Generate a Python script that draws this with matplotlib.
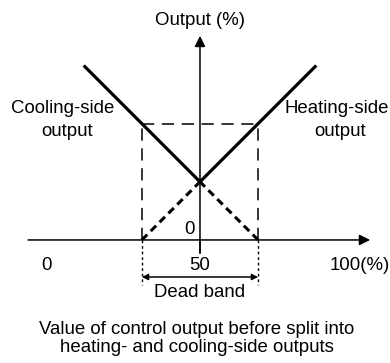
import matplotlib
matplotlib.use("Agg")
import matplotlib.pyplot as plt

plt.rcParams['font.family'] = ['Liberation Sans', 'DejaVu Sans']

# control output (%) before split, and dead band edges
x_ticks = [0, 50, 100]
x_tick_labels = ['0', '50', '100(%)']
dead_band = [31, 69]
cross_point = [50, 19]

# heating-side output: dashed inside dead band, solid beyond
heat_x_dash = [31, 50]
heat_y_dash = [0, 19]
heat_x_solid = [50, 88]
heat_y_solid = [19, 57]

# cooling-side output
cool_x_dash = [69, 50]
cool_y_dash = [0, 19]
cool_x_solid = [50, 12]
cool_y_solid = [19, 57]

# level where both outputs meet the dead band edges
band_top = 38

fig = plt.figure(figsize=(3.9, 3.63), dpi=100)
ax = fig.add_axes([0, 0, 1, 1])
ax.set_xlim(-15.36, 112.1)
ax.set_ylim(-40.2, 78.4)
ax.axis('off')

k = 'black'

# axes with arrows
ax.annotate('', xy=(105.6, 0), xytext=(-6.2, 0),
            arrowprops=dict(arrowstyle='-|>', color=k, lw=1.1,
                            mutation_scale=16, shrinkA=0, shrinkB=0))
ax.annotate('', xy=(50, 66.7), xytext=(50, -4.2),
            arrowprops=dict(arrowstyle='-|>', color=k, lw=1.1,
                            mutation_scale=16, shrinkA=0, shrinkB=0))

# dead band rectangle
ax.plot([dead_band[0], dead_band[1]], [band_top, band_top], color=k, lw=1.1,
        linestyle=(0, (8, 5)))
for xb in dead_band:
    ax.plot([xb, xb], [0, band_top], color=k, lw=1.1, linestyle=(0, (8, 5)))
    ax.plot([xb, xb], [0, -14.7], color=k, lw=1.0, linestyle=(0, (2, 2)))

# output lines
ax.plot(heat_x_solid, heat_y_solid, color=k, lw=2.3, solid_capstyle='butt')
ax.plot(cool_x_solid, cool_y_solid, color=k, lw=2.3, solid_capstyle='butt')
ax.plot(heat_x_dash, heat_y_dash, color=k, lw=2.2, linestyle=(0, (2.5, 1.6)))
ax.plot(cool_x_dash, cool_y_dash, color=k, lw=2.2, linestyle=(0, (2.5, 1.6)))

# dead band width arrow
ax.annotate('', xy=(dead_band[1], -12.1), xytext=(dead_band[0], -12.1),
            arrowprops=dict(arrowstyle='<|-|>', color=k, lw=1.1,
                            mutation_scale=9, shrinkA=0, shrinkB=0))

fs = 13.4
ax.text(50, 71.6, 'Output (%)', ha='center', va='center', fontsize=fs)
ax.text(5.2, 43.1, 'Cooling-side', ha='center', va='center', fontsize=fs)
ax.text(6.5, 35.3, 'output', ha='center', va='center', fontsize=fs)
ax.text(94.8, 43.1, 'Heating-side', ha='center', va='center', fontsize=fs)
ax.text(95.8, 35.3, 'output', ha='center', va='center', fontsize=fs)
ax.text(46.7, 3.4, '0', ha='center', va='center', fontsize=fs)

for xt, lab in zip(x_ticks, x_tick_labels):
    xpos = xt + 2.3 if lab.endswith('(%)') else xt
    ax.text(xpos, -8.2, lab, ha='center', va='center', fontsize=fs)
ax.plot([50, 50], [0, -4.2], color=k, lw=1.1)

ax.text(50, -17.3, 'Dead band', ha='center', va='center', fontsize=fs)
ax.text(49, -32.1, 'Value of control output before split into\nheating- and cooling-side outputs',
        ha='center', va='center', fontsize=fs, linespacing=1.1)

fig.savefig('out.png', dpi=100)
